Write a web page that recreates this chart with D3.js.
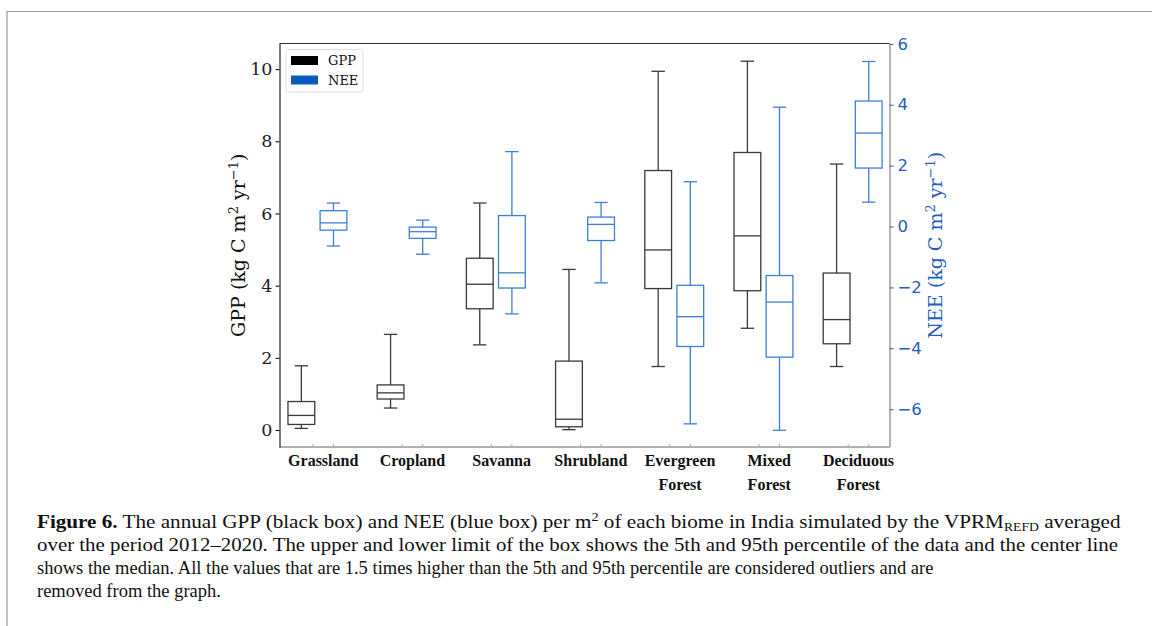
<!DOCTYPE html>
<html>
<head>
<meta charset="utf-8">
<script src="https://cdn.jsdelivr.net/npm/d3@7"></script>
<style>
body { margin: 0; background: white; }
.axis text { font-family: "DejaVu Serif", serif; font-size: 17.5px; }
.axis--nee text { font-family: "DejaVu Sans", sans-serif; font-size: 16.5px; }
.caption { font-family: "Liberation Serif", serif; font-size: 18.5px; fill: #111; }
.xlab { font-family: "Liberation Serif", serif; font-weight: bold; font-size: 16px; fill: #111; }
</style>
</head>
<body>
<script>
const categories = ["Grassland", "Cropland", "Savanna", "Shrubland", "Evergreen Forest", "Mixed Forest", "Deciduous Forest"];

// GPP boxes (kg C m2 yr-1): whisker low, box low, median, box high, whisker high
const gppMin    = [0.045, 0.61, 2.36, 0.01, 1.76, 2.82, 1.76];
const gppQ1     = [0.155, 0.86, 3.36, 0.09, 3.92, 3.86, 2.39];
const gppMedian = [0.405, 1.03, 4.04, 0.30, 4.99, 5.38, 3.06];
const gppQ3     = [0.79, 1.25, 4.76, 1.91, 7.19, 7.69, 4.35];
const gppMax    = [1.78, 2.65, 6.29, 4.45, 9.94, 10.22, 7.37];

// NEE boxes
const neeMin    = [-0.64, -0.91, -2.87, -1.85, -6.48, -6.69, 0.80];
const neeQ1     = [-0.12, -0.39, -2.02, -0.46, -3.94, -4.29, 1.92];
const neeMedian = [0.12, -0.17, -1.52, 0.07, -2.96, -2.48, 3.07];
const neeQ3     = [0.52, -0.02, 0.36, 0.31, -1.93, -1.61, 4.12];
const neeMax    = [0.77, 0.21, 2.46, 0.79, 1.47, 3.92, 5.42];

const gppTicks = [0, 2, 4, 6, 8, 10];
const neeTicks = [-6, -4, -2, 0, 2, 4, 6];

const W = 1152, H = 626;
const svg = d3.select("body").append("svg").attr("width", W).attr("height", H);

// page frame
svg.append("path").attr("d", `M7,626 V11.5 H1152`).attr("fill", "none").attr("stroke", "#9a9a9a").attr("stroke-width", 1.2);

const plot = {left: 279.5, right: 889.5, top: 43.5, bottom: 447};

// position i = NEE box centre; GPP box sits a bit left of it
const x = d3.scaleLinear().domain([-0.605, 6.233]).range([plot.left, plot.right]);
const yG = d3.scaleLinear().domain([-0.47, 10.71]).range([plot.bottom, plot.top]);
const yN = d3.scaleLinear().domain([-7.24, 6.01]).range([plot.bottom, plot.top]);

const gppOff = -0.36, tickOff = -0.23, labOff = -0.115, boxW = 0.3, capW = 0.15;

const gppData = categories.map((c, i) => ({i, pos: i + gppOff, lo: gppMin[i], q1: gppQ1[i], med: gppMedian[i], q3: gppQ3[i], hi: gppMax[i]}));
const neeData = categories.map((c, i) => ({i, pos: i, lo: neeMin[i], q1: neeQ1[i], med: neeMedian[i], q3: neeQ3[i], hi: neeMax[i]}));

function drawBoxes(data, y, color, sw) {
  const g = svg.append("g").attr("stroke", color).attr("fill", "none").attr("stroke-width", sw);
  const hw = (x(boxW) - x(0)) / 2, cw = (x(capW) - x(0)) / 2;
  const b = g.selectAll("g").data(data).enter().append("g");
  b.append("line").attr("x1", d => x(d.pos)).attr("x2", d => x(d.pos)).attr("y1", d => y(d.q3)).attr("y2", d => y(d.hi));
  b.append("line").attr("x1", d => x(d.pos)).attr("x2", d => x(d.pos)).attr("y1", d => y(d.q1)).attr("y2", d => y(d.lo));
  b.append("line").attr("x1", d => x(d.pos) - cw).attr("x2", d => x(d.pos) + cw).attr("y1", d => y(d.hi)).attr("y2", d => y(d.hi));
  b.append("line").attr("x1", d => x(d.pos) - cw).attr("x2", d => x(d.pos) + cw).attr("y1", d => y(d.lo)).attr("y2", d => y(d.lo));
  b.append("rect").attr("x", d => x(d.pos) - hw).attr("width", 2 * hw)
    .attr("y", d => y(d.q3)).attr("height", d => y(d.q1) - y(d.q3));
  b.append("line").attr("x1", d => x(d.pos) - hw).attr("x2", d => x(d.pos) + hw).attr("y1", d => y(d.med)).attr("y2", d => y(d.med));
}
drawBoxes(gppData, yG, "#3a3a3a", 1.3);
drawBoxes(neeData, yN, "#3f7fd9", 1.3);

// spines
svg.append("line").attr("x1", plot.left).attr("x2", plot.right).attr("y1", plot.top).attr("y2", plot.top).attr("stroke", "#333").attr("stroke-width", 1.2);
svg.append("line").attr("x1", plot.left).attr("x2", plot.right).attr("y1", plot.bottom).attr("y2", plot.bottom).attr("stroke", "#999").attr("stroke-width", 1.4);

// left axis (GPP)
const axL = svg.append("g").attr("class", "axis").attr("transform", `translate(${plot.left},0)`)
  .call(d3.axisLeft(yG).tickValues(gppTicks).tickSize(4).tickSizeOuter(0).tickPadding(3));
axL.select(".domain").attr("stroke", "#222").attr("stroke-width", 1.2);
axL.selectAll("text").attr("fill", "#222");

// right axis (NEE)
const axR = svg.append("g").attr("class", "axis axis--nee").attr("transform", `translate(${plot.right},0)`)
  .call(d3.axisRight(yN).tickValues(neeTicks).tickSize(4).tickSizeOuter(0).tickPadding(4)
    .tickFormat(d => d < 0 ? "\u2212" + Math.abs(d) : d));
axR.select(".domain").attr("stroke", "#999").attr("stroke-width", 1.4);
axR.selectAll(".tick line").attr("stroke", "#1f5fc0");
axR.selectAll("text").attr("fill", "#1f5fc0");

// bottom ticks (pairs) and category labels
const tickPos = [];
categories.forEach((c, i) => { tickPos.push(i + tickOff, i); });
svg.append("g").selectAll("line").data(tickPos).enter().append("line")
  .attr("x1", d => x(d)).attr("x2", d => x(d)).attr("y1", plot.bottom - 3).attr("y2", plot.bottom)
  .attr("stroke", "#aaa").attr("stroke-width", 1);

const lab = svg.append("g").selectAll("text").data(categories).enter().append("text")
  .attr("class", "xlab").attr("text-anchor", "middle")
  .attr("x", (d, i) => x(i + labOff)).attr("y", 466);
lab.each(function(d) {
  const parts = d.split(" ");
  const t = d3.select(this);
  parts.forEach((p, k) => t.append("tspan").attr("x", t.attr("x")).attr("dy", k === 0 ? 0 : 24).text(p));
});

// axis titles
const lt = svg.append("text").attr("transform", `translate(245,${(plot.top + plot.bottom) / 2}) rotate(-90)`)
  .attr("text-anchor", "middle").attr("font-family", "DejaVu Serif, serif").attr("font-size", 19).attr("fill", "#111");
lt.append("tspan").text("GPP (kg C m");
lt.append("tspan").attr("dy", -7).attr("font-size", 13).text("2");
lt.append("tspan").attr("dy", 7).text(" yr");
lt.append("tspan").attr("dy", -7).attr("font-size", 13).text("\u22121");
lt.append("tspan").attr("dy", 7).text(")");

const rt = svg.append("text").attr("transform", `translate(942,${(plot.top + plot.bottom) / 2}) rotate(-90)`)
  .attr("text-anchor", "middle").attr("font-family", "DejaVu Serif, serif").attr("font-size", 19).attr("fill", "#1f5fc0");
rt.append("tspan").text("NEE (kg C m");
rt.append("tspan").attr("dy", -7).attr("font-size", 13).text("2");
rt.append("tspan").attr("dy", 7).text(" yr");
rt.append("tspan").attr("dy", -7).attr("font-size", 13).text("\u22121");
rt.append("tspan").attr("dy", 7).text(")");

// legend
const leg = svg.append("g");
leg.append("rect").attr("x", 286).attr("y", 49.5).attr("width", 77).attr("height", 42.5).attr("rx", 2)
  .attr("fill", "white").attr("stroke", "#ddd");
const legItems = [{name: "GPP", color: "#000"}, {name: "NEE", color: "#0a5bc0"}];
const li = leg.selectAll("g").data(legItems).enter().append("g").attr("transform", (d, i) => `translate(291,${56 + i * 19.5})`);
li.append("rect").attr("width", 27).attr("height", 9).attr("fill", d => d.color);
li.append("text").attr("x", 37).attr("y", 9).attr("font-family", "DejaVu Serif, serif").attr("font-size", 13).attr("fill", "#111").text(d => d.name);

// caption; the first two lines are stretched to the justified width
const cap = svg.append("g").attr("class", "caption");
const c1 = cap.append("text");
c1.append("tspan").attr("font-weight", "bold").text("Figure 6.");
c1.append("tspan").text(" The annual GPP (black box) and NEE (blue box) per m");
c1.append("tspan").attr("dy", -7).attr("font-size", 12.5).text("2");
c1.append("tspan").attr("dy", 7).text(" of each biome in India simulated by the VPRM");
c1.append("tspan").attr("dy", 3).attr("font-size", 12).text("REFD");
c1.append("tspan").attr("dy", -3).text(" averaged");
const c2 = cap.append("text")
  .text("over the period 2012\u20132020. The upper and lower limit of the box shows the 5th and 95th percentile of the data and the center line");
const c3 = cap.append("text")
  .text("shows the median. All the values that are 1.5 times higher than the 5th and 95th percentile are considered outliers and are");
const c4 = cap.append("text").text("removed from the graph.");
[[c1, 528, 1085], [c2, 551, 1082], [c3, 574, null], [c4, 597, null]].forEach(([el, y, target]) => {
  const w = el.node().getBBox().width;
  const s = target ? target / w : 1;
  el.attr("transform", `translate(37,${y}) scale(${s},1)`);
});
</script>
</body>
</html>
